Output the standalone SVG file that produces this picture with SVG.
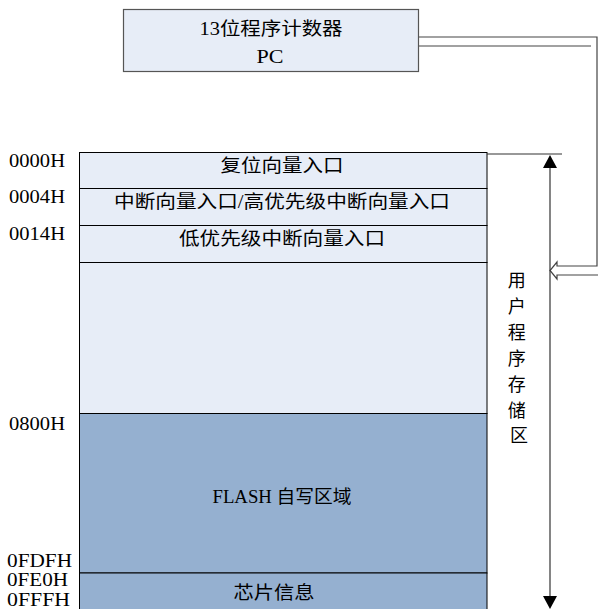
<svg xmlns="http://www.w3.org/2000/svg" width="598" height="609" viewBox="0 0 598 609">
<defs>
<style>
.lat{font-family:"Liberation Serif","Times New Roman",serif;font-size:19.5px;fill:#000}
.cjk{font-family:"Liberation Serif","Noto Sans CJK SC",serif;font-size:18px;fill:#000}
.light{fill:#e7edf7;stroke:#000;stroke-width:1}
.dark{fill:#95b0d0;stroke:#000;stroke-width:1}
.conn{fill:none;stroke:#444;stroke-width:1.2}
.arr{fill:none;stroke:#333;stroke-width:1.2}
</style>
</defs>
<g id="pc">
<rect x="123.5" y="9.5" width="295" height="62" fill="#e7edf7" stroke="#555" stroke-width="1.2"/>
<text class="cjk" x="271" y="35" text-anchor="middle" textLength="143" lengthAdjust="spacingAndGlyphs">13位程序计数器</text>
<text class="lat" x="270" y="63" text-anchor="middle" textLength="27" lengthAdjust="spacingAndGlyphs">PC</text>
</g>
<g id="row-reset">
<rect class="light" x="79.5" y="152.5" width="407.5" height="36"/>
<text class="cjk" x="282" y="172" text-anchor="middle" textLength="123" lengthAdjust="spacingAndGlyphs">复位向量入口</text>
</g>
<g id="row-int">
<rect class="light" x="79.5" y="188.5" width="407.5" height="37"/>
<text class="cjk" x="282" y="208" text-anchor="middle" textLength="336" lengthAdjust="spacingAndGlyphs">中断向量入口/高优先级中断向量入口</text>
</g>
<g id="row-lowint">
<rect class="light" x="79.5" y="225.5" width="407.5" height="37"/>
<text class="cjk" x="282" y="245" text-anchor="middle" textLength="206" lengthAdjust="spacingAndGlyphs">低优先级中断向量入口</text>
</g>
<g id="row-blank">
<rect class="light" x="79.5" y="262.5" width="407.5" height="151"/>
</g>
<g id="row-flash">
<rect class="dark" x="79.5" y="413.5" width="407.5" height="159.5"/>
<text class="cjk" x="282" y="503" text-anchor="middle" textLength="139" lengthAdjust="spacingAndGlyphs">FLASH 自写区域</text>
</g>
<g id="row-chip">
<rect class="dark" x="79.5" y="573" width="407.5" height="40"/>
<text class="cjk" x="274" y="599" text-anchor="middle" textLength="81" lengthAdjust="spacingAndGlyphs">芯片信息</text>
</g>
<g id="addresses">
<text class="lat" x="9" y="167" textLength="56" lengthAdjust="spacingAndGlyphs">0000H</text>
<text class="lat" x="9" y="203" textLength="56" lengthAdjust="spacingAndGlyphs">0004H</text>
<text class="lat" x="9" y="240" textLength="56" lengthAdjust="spacingAndGlyphs">0014H</text>
<text class="lat" x="9" y="430" textLength="56" lengthAdjust="spacingAndGlyphs">0800H</text>
<text class="lat" x="7" y="567" textLength="65" lengthAdjust="spacingAndGlyphs">0FDFH</text>
<text class="lat" x="7" y="586" textLength="61" lengthAdjust="spacingAndGlyphs">0FE0H</text>
<text class="lat" x="7" y="606" textLength="63" lengthAdjust="spacingAndGlyphs">0FFFH</text>
</g>
<g id="label-user">
<text class="cjk" text-anchor="middle">
<tspan x="519" y="287">用</tspan>
<tspan x="519" y="313">户</tspan>
<tspan x="519" y="339">程</tspan>
<tspan x="519" y="365">序</tspan>
<tspan x="519" y="391">存</tspan>
<tspan x="519" y="417">储</tspan>
<tspan x="519" y="442">区</tspan>
</text>
</g>
<g id="connectors">
<path class="conn" d="M419,37 H597 V266 H557 V262 L550,270.5 L557,279 V275 H600"/>
<path class="conn" d="M419,46 H591"/>
<path class="arr" d="M487,154 H562"/>
<path class="arr" d="M550,168 V596"/>
<path d="M543,168 L550,155 L557,168 Z" fill="#000"/>
<path d="M543,596 L550,609 L557,596 Z" fill="#000"/>
</g>
</svg>
